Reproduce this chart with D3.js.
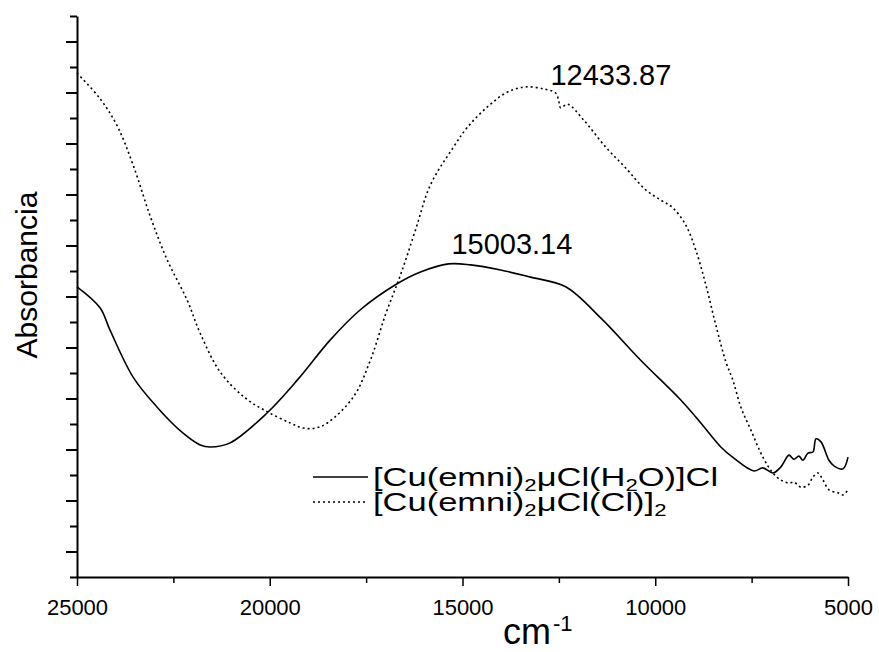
<!DOCTYPE html>
<html>
<head>
<meta charset="utf-8">
<script src="https://cdn.jsdelivr.net/npm/d3@7"></script>
<style>
  html, body { margin: 0; padding: 0; background: #fff; }
  text { font-family: "Liberation Sans", Arial, sans-serif; fill: #000; }
</style>
</head>
<body>
<svg id="chart" width="879" height="652"></svg>
<script>
// Wavenumber (cm-1) and absorbance readings for the two copper complexes
const wnAqua = [25000, 24403, 24143, 23545, 22922, 22247, 21805, 21546, 21026, 20065, 19286, 18429, 17649, 16740, 16091, 15364, 14792, 14013, 13234, 12325, 11416, 10377, 9338, 8818, 8299, 7961, 7442, 7208, 6948, 6740, 6532, 6403, 6273, 6169, 6039, 5909, 5831, 5701, 5494, 5364, 5130, 5000];
const absAqua = [0.619, 0.578, 0.534, 0.442, 0.383, 0.332, 0.309, 0.305, 0.313, 0.372, 0.436, 0.515, 0.574, 0.623, 0.648, 0.664, 0.662, 0.652, 0.638, 0.619, 0.558, 0.475, 0.397, 0.352, 0.305, 0.283, 0.258, 0.264, 0.254, 0.266, 0.289, 0.281, 0.287, 0.279, 0.293, 0.295, 0.321, 0.315, 0.279, 0.268, 0.262, 0.285];

const wnChloro = [25000, 24403, 23961, 23545, 23104, 22662, 22143, 21805, 21286, 20636, 20065, 19468, 19130, 18818, 18506, 17831, 17390, 17000, 16610, 16221, 15831, 15234, 14870, 14351, 13831, 13364, 12896, 12584, 12507, 12455, 12273, 11857, 11286, 10766, 10247, 9857, 9545, 9208, 8948, 8688, 8429, 8169, 7987, 7779, 7519, 7208, 6948, 6740, 6532, 6403, 6221, 6039, 5909, 5779, 5649, 5494, 5260, 5130, 5000];
const absChloro = [1.038, 0.988, 0.935, 0.858, 0.758, 0.672, 0.593, 0.528, 0.452, 0.401, 0.374, 0.352, 0.342, 0.342, 0.352, 0.403, 0.475, 0.564, 0.642, 0.730, 0.819, 0.893, 0.932, 0.972, 1.001, 1.011, 1.007, 0.999, 0.985, 0.970, 0.977, 0.946, 0.893, 0.852, 0.809, 0.789, 0.774, 0.740, 0.691, 0.623, 0.544, 0.472, 0.436, 0.383, 0.338, 0.285, 0.254, 0.240, 0.234, 0.236, 0.226, 0.230, 0.246, 0.254, 0.240, 0.221, 0.215, 0.211, 0.221];

// Axis ticks
const xTicks = [25000, 22500, 20000, 17500, 15000, 12500, 10000, 7500, 5000];
const yTicks = d3.range(0.05, 1.1501, 0.05).map(v => +v.toFixed(2));

// Peak annotations
const peakLabels = [
  { wn: 15003.14, text: "15003.14", baseline: 254 },
  { wn: 12433.87, text: "12433.87", baseline: 85 }
];

// Legend entries
const legendNames = [
  [["[Cu(emni)", 0], ["2", 1], ["\u03bcCl(H", 0], ["2", 1], ["O)]Cl", 0]],
  [["[Cu(emni)", 0], ["2", 1], ["\u03bcCl(Cl)]", 0], ["2", 1]]
];

const svg = d3.select("#chart");
const x = d3.scaleLinear().domain([25000, 5000]).range([77, 848]);
const y = d3.scaleLinear().domain([0.05, 1.15]).range([577, 16]);

// Left axis: unlabeled ticks, longer at every 0.1
const yAxis = d3.axisLeft(y)
  .tickValues(yTicks)
  .tickFormat("")
  .tickSizeOuter(0)
  .tickSize(0);
const gy = svg.append("g").attr("transform", `translate(${x(25000)},0)`).call(yAxis);
gy.select(".domain").attr("stroke", "#000").attr("stroke-width", 2);
gy.selectAll(".tick line")
  .attr("stroke", "#000")
  .attr("stroke-width", 2)
  .attr("x2", d => (Math.round(d * 100) % 10 === 0 ? -11 : -7));

// Bottom axis
const xAxis = d3.axisBottom(x)
  .tickValues(xTicks)
  .tickFormat(d => (d % 5000 === 0 ? String(d) : ""))
  .tickSizeOuter(0)
  .tickSize(0)
  .tickPadding(0);
const gx = svg.append("g").attr("transform", `translate(0,${y(0.05)})`).call(xAxis);
gx.select(".domain").attr("stroke", "#000").attr("stroke-width", 2);
gx.selectAll(".tick line")
  .attr("stroke", "#000")
  .attr("stroke-width", 1.5)
  .attr("y2", d => (d % 5000 === 0 ? 9 : 6));
gx.selectAll(".tick text")
  .attr("y", 38)
  .attr("dy", 0)
  .style("font-size", "22px")
  .style("font-family", "'Liberation Sans', Arial, sans-serif")
  .attr("fill", "#000");

// Axis titles
const xTitle = svg.append("text")
  .attr("x", 503)
  .attr("y", 644)
  .style("font-size", "36px");
xTitle.append("tspan").text("cm");
xTitle.append("tspan").attr("dy", -13).attr("dx", 2).style("font-size", "22px").text("-1");

svg.append("text")
  .attr("transform", "translate(37,275) rotate(-90)")
  .attr("text-anchor", "middle")
  .style("font-size", "30px")
  .text("Absorbancia");

// Spectra
const line = d3.line()
  .x(d => x(d[0]))
  .y(d => y(d[1]))
  .curve(d3.curveCatmullRom.alpha(0.5));

const aquaPts = wnAqua.map((w, i) => [w, absAqua[i]]);
const chloroPts = wnChloro.map((w, i) => [w, absChloro[i]]);

svg.append("path")
  .datum(aquaPts)
  .attr("d", line)
  .attr("fill", "none")
  .attr("stroke", "#000")
  .attr("stroke-width", 1.6);

svg.append("path")
  .datum(chloroPts)
  .attr("d", line)
  .attr("fill", "none")
  .attr("stroke", "#000")
  .attr("stroke-width", 1.6)
  .attr("stroke-dasharray", "2,3");

// Peak labels, starting just left of the marked wavenumber
svg.selectAll(".peak")
  .data(peakLabels)
  .join("text")
  .attr("class", "peak")
  .attr("x", d => x(d.wn) - 11)
  .attr("y", d => d.baseline)
  .style("font-size", "29px")
  .text(d => d.text);

// Legend
const legendRowsY = [477, 502];
const legendDash = [null, "2,3"];
const legend = svg.append("g").attr("transform", "translate(313,0)");
legendNames.forEach((parts, i) => {
  const ry = legendRowsY[i];
  legend.append("line")
    .attr("x1", 0).attr("x2", 55)
    .attr("y1", ry).attr("y2", ry)
    .attr("stroke", "#000")
    .attr("stroke-width", 1.4)
    .attr("stroke-dasharray", legendDash[i]);
  const t = legend.append("g")
    .attr("transform", `translate(60,${ry + 9}) scale(1.38,1)`)
    .append("text")
    .attr("x", 0)
    .attr("y", 0)
    .style("font-size", "25px");
  let sub = false;
  parts.forEach(([s, isSub]) => {
    const ts = t.append("tspan").text(s);
    if (isSub && !sub) { ts.attr("dy", 5).style("font-size", "16px"); sub = true; }
    else if (!isSub && sub) { ts.attr("dy", -5); sub = false; }
  });
});
</script>
</body>
</html>
